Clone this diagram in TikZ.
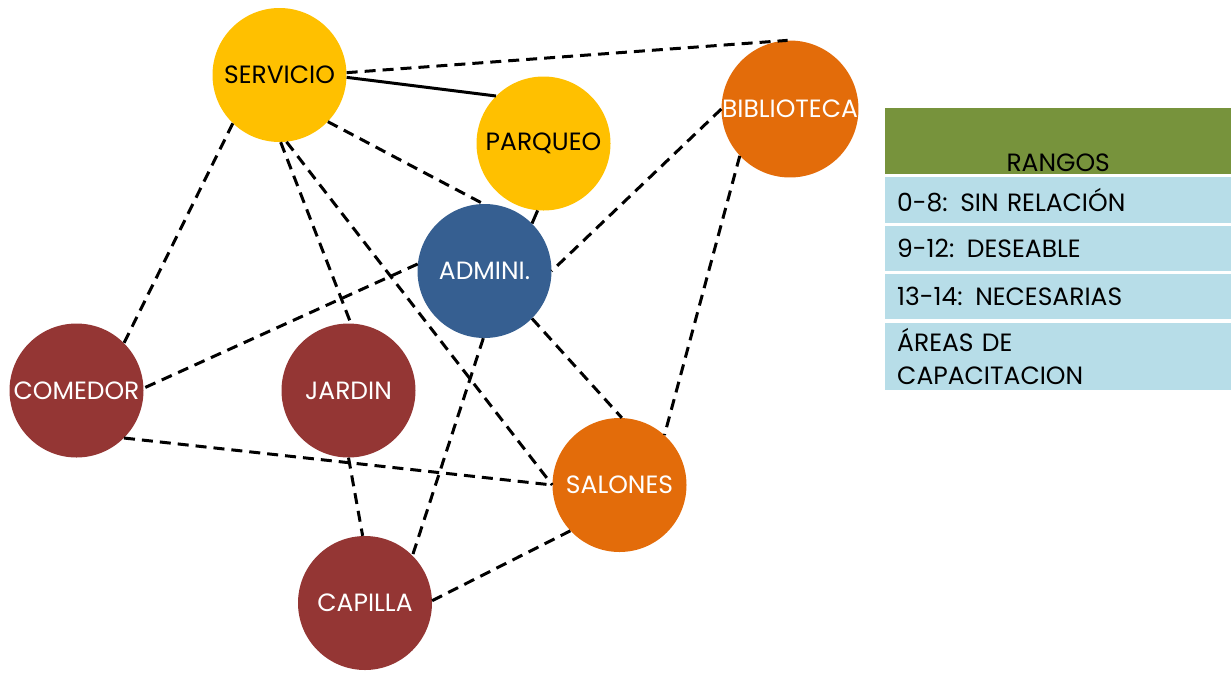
\documentclass[tikz,border=0pt]{standalone}
\usepackage{fontspec}
\setmainfont{Poppins}
\definecolor{amarillo}{HTML}{FFC000}
\definecolor{naranja}{HTML}{E36C0A}
\definecolor{vino}{HTML}{943634}
\definecolor{azul}{HTML}{365F91}
\definecolor{oliva}{HTML}{77933C}
\definecolor{celeste}{HTML}{B7DDE8}
\begin{document}
\begin{tikzpicture}[x=1pt,y=-1pt,
  area/.style={circle, minimum size=134pt, inner sep=0pt, font=\fontsize{25}{30}\selectfont},
  enlace/.style={black, line width=3pt, dash pattern=on 11pt off 7pt},
  directo/.style={black, line width=3pt},
  fila/.style={fill=celeste, anchor=north west, minimum width=346pt, text width=322pt,
    inner xsep=12pt, inner ysep=0pt, align=left, font=\fontsize{25}{33}\selectfont}]
\useasboundingbox (0,0) rectangle (1231,673);
% areas
\node[area, fill=amarillo, text=black] (serv) at (279.5,75) {SERVICIO};
\node[area, fill=amarillo, text=black] (parq) at (543.5,143.5) {PARQUEO};
\node[area, fill=naranja, text=white] (bib) at (790,109) {BIBLIOTECA};
\node[area, fill=azul, text=white] (admin) at (484.5,271) {ADMINI.};
\node[area, fill=vino, text=white] (com) at (76.5,390.5) {COMEDOR};
\node[area, fill=vino, text=white] (jar) at (348.5,390.5) {JARDIN};
\node[area, fill=naranja, text=white] (sal) at (619.5,485) {SALONES};
\node[area, fill=vino, text=white] (cap) at (365,603) {CAPILLA};
% relaciones
\draw[directo] (serv.-2) -- (parq.135);
\draw[directo] (parq.-95) -- (admin.45);
\draw[enlace] (serv.2) -- (bib.92);
\draw[enlace] (serv.-44) -- (admin.91);
\draw[enlace] (serv.-134) -- (com.45);
\draw[enlace] (serv.-89) -- (jar.88);
\draw[enlace] (serv.-84) -- (sal.180);
\draw[enlace] (bib.180) -- (admin.0);
\draw[enlace] (bib.-137) -- (sal.48);
\draw[enlace] (admin.174) -- (com.2);
\draw[enlace] (admin.-45) -- (sal.88);
\draw[enlace] (admin.-91) -- (cap.45);
\draw[enlace] (com.-45) -- (sal.180);
\draw[enlace] (jar.-90) -- (cap.92);
\draw[enlace] (cap.2) -- (sal.-137);
% rangos
\node[fill=oliva, anchor=north west, minimum width=346pt, minimum height=66pt,
  inner sep=0pt] (tit) at (885,108) {};
\node[anchor=south, inner sep=3pt, font=\fontsize{25}{30}\selectfont] (rangos)
  at (tit.south) {RANGOS};
\node[fila, minimum height=46pt] (r1) at (885,177) {0-8: SIN RELACIÓN};
\node[fila, minimum height=45pt] (r2) at (885,226) {9-12: DESEABLE};
\node[fila, minimum height=45pt] (r3) at (885,274) {13-14: NECESARIAS};
\node[fila, minimum height=67pt] (r4) at (885,323) {ÁREAS DE\\CAPACITACION};
\end{tikzpicture}
\end{document}
